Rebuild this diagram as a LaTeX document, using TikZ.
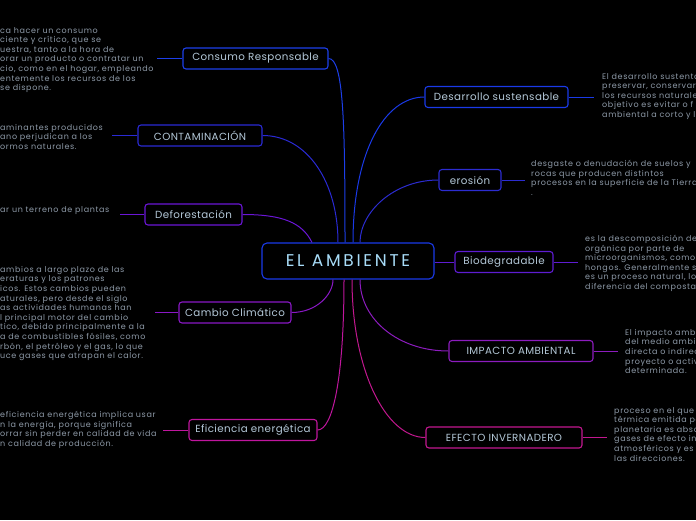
\documentclass[tikz,border=0pt]{standalone}
\usepackage{fontspec}
\setmainfont{Poppins}
\newfontfamily\descfont[LetterSpace=8]{Poppins}
\newfontfamily\boxfont[LetterSpace=4]{Poppins}
\newfontfamily\mainfont[LetterSpace=16]{Poppins}
\definecolor{cblue}{HTML}{1A3AE8}
\definecolor{ccons}{HTML}{1D3FEA}
\definecolor{ccont}{HTML}{2A2AD4}
\definecolor{cdefo}{HTML}{6A16D6}
\definecolor{ccamb}{HTML}{8A18C6}
\definecolor{cefic}{HTML}{C0169E}
\definecolor{cdesa}{HTML}{1A3AE8}
\definecolor{cero}{HTML}{2C2CD0}
\definecolor{cbio}{HTML}{5E1CD2}
\definecolor{cimp}{HTML}{8C1CBE}
\definecolor{cefe}{HTML}{C2188F}
\definecolor{nodetext}{HTML}{B4C8D8}
\definecolor{centertext}{HTML}{A8DCF8}
\definecolor{desctext}{HTML}{8E9AA8}
\begin{document}
\begin{tikzpicture}[x=1pt,y=-1pt,
  box/.style={draw, rounded corners=3pt, line width=1.1pt, minimum height=21pt, inner sep=0pt, font=\boxfont\fontsize{10.3}{12}\selectfont, text=nodetext, fill=black},
  desc/.style={inner sep=0pt, align=left, font=\descfont\fontsize{8}{9.6}\selectfont, text=desctext},
  link/.style={line width=1pt}]
\fill[black] (0,0) rectangle (696,520);
\useasboundingbox (0,0) rectangle (696,520);

% central node
\node[box, draw=cblue, minimum width=172pt, minimum height=36pt, rounded corners=5pt, font=\mainfont\fontsize{17}{19}\selectfont, text=centertext] (c) at (348,261) {EL AMBIENTE};

% left branches
\node[box, draw=ccons, minimum width=145pt] (cons) at (255.5,58.5) {Consumo Responsable};
\node[box, draw=ccont, minimum width=124pt] (cont) at (200,135.5) {CONTAMINACIÓN};
\node[box, draw=cdefo, minimum width=97pt] (defo) at (193.5,214.5) {Deforestación};
\node[box, draw=ccamb, minimum width=112pt] (camb) at (235,312.5) {Cambio Climático};
\node[box, draw=cefic, minimum width=128pt] (efic) at (253,430) {Eficiencia energética};

% right branches
\node[box, draw=cdesa, minimum width=143pt] (desa) at (496.5,97) {Desarrollo sustensable};
\node[box, draw=cero, minimum width=62pt] (ero) at (470,180) {erosión};
\node[box, draw=cbio, minimum width=98pt] (bio) at (504,262) {Biodegradable};
\node[box, draw=cimp, minimum width=144pt] (imp) at (521,351) {IMPACTO AMBIENTAL};
\node[box, draw=cefe, minimum width=156pt] (efe) at (504,437.5) {EFECTO INVERNADERO};

% connectors from centre
\draw[link, ccons] (cons.east) .. controls +(15,0) and +(0,-120) .. ([xshift=-3pt]c.north);
\draw[link, ccont] (cont.east) .. controls +(45,0) and +(0,-60) .. ([xshift=-10pt]c.north);
\draw[link, cdefo] (defo.east) .. controls +(40,0) and +(-10,-20) .. ([xshift=-36pt]c.north);
\draw[link, ccamb] (camb.east) .. controls +(25,0) and +(0,15) .. ([xshift=-15pt]c.south);
\draw[link, cefic] (efic.east) .. controls +(15,0) and +(0,100) .. ([xshift=-4pt]c.south);
\draw[link, cdesa] (desa.west) .. controls +(-40,0) and +(0,-90) .. ([xshift=5pt]c.north);
\draw[link, cero] (ero.west) .. controls +(-45,0) and +(0,-30) .. ([xshift=12pt]c.north);
\draw[link, cbio] (bio.west) -- (c.east |- bio.west);
\draw[link, cimp] (imp.west) .. controls +(-50,0) and +(0,40) .. ([xshift=12pt]c.south);
\draw[link, cefe] (efe.west) .. controls +(-40,0) and +(0,90) .. ([xshift=4pt]c.south);

% description ends
\coordinate (tcons) at (157,58.5);
\coordinate (tcont) at (112,135.5);
\coordinate (tdefo) at (120,214.5);
\coordinate (tcamb) at (155,312.5);
\coordinate (tefic) at (163,430);
\coordinate (tdesa) at (594,97);
\coordinate (tero) at (525,180);
\coordinate (tbio) at (578,262);
\coordinate (timp) at (618,351);
\coordinate (tefe) at (607,437.5);
\draw[link, ccons] (cons.west) -- (tcons);
\draw[link, ccont] (cont.west) -- (tcont);
\draw[link, cdefo] (defo.west) -- (tdefo);
\draw[link, ccamb] (camb.west) -- (tcamb);
\draw[link, cefic] (efic.west) -- (tefic);
\draw[link, cdesa] (desa.east) -- (tdesa);
\draw[link, cero] (ero.east) -- (tero);
\draw[link, cbio] (bio.east) -- (tbio);
\draw[link, cimp] (imp.east) -- (timp);
\draw[link, cefe] (efe.east) -- (tefe);

% left descriptions
\node[desc, anchor=north west] (dcons) at (0,27) {ca hacer un consumo\\ciente y crítico, que se\\uestra, tanto a la hora de\\orar un producto o contratar un\\cio, como en el hogar, empleando\\entemente los recursos de los\\se dispone.};
\node[desc, anchor=north west] (dcont) at (0,124) {aminantes producidos\\ano perjudican a los\\ormos naturales.};
\node[desc, anchor=north west] (ddefo) at (0,206) {ar un terreno de plantas};
\node[desc, anchor=north west] (dcamb) at (0,266) {ambios a largo plazo de las\\eraturas y los patrones\\icos. Estos cambios pueden\\aturales, pero desde el siglo\\as actividades humanas han\\l principal motor del cambio\\tico, debido principalmente a la\\a de combustibles fósiles, como\\rbón, el petróleo y el gas, lo que\\uce gases que atrapan el calor.};
\node[desc, anchor=north west] (defic) at (0,411) {eficiencia energética implica usar\\n la energía, porque significa\\orrar sin perder en calidad de vida\\n calidad de producción.};

% right descriptions
\node[desc, anchor=north west] (ddesa) at (602,73) {El desarrollo sustentable\\preservar, conservar\\los recursos naturales\\objetivo es evitar o f\\ambiental a corto y largo};
\node[desc, anchor=north west] (dero) at (531,160) {desgaste o denudación de suelos y\\rocas que producen distintos\\procesos en la superficie de la Tierra\\.};
\node[desc, anchor=north west] (dbio) at (585,235) {es la descomposición de\\orgánica por parte de\\microorganismos, como\\hongos. Generalmente se\\es un proceso natural, lo\\diferencia del compostaje};
\node[desc, anchor=north west] (dimp) at (625,329) {El impacto ambiental\\del medio ambiente\\directa o indirecta\\proyecto o actividad\\determinada.};
\node[desc, anchor=north west] (defe) at (614,407) {proceso en el que\\térmica emitida por\\planetaria es absorbida\\gases de efecto invernadero\\atmosféricos y es\\las direcciones.};
\end{tikzpicture}
\end{document}
